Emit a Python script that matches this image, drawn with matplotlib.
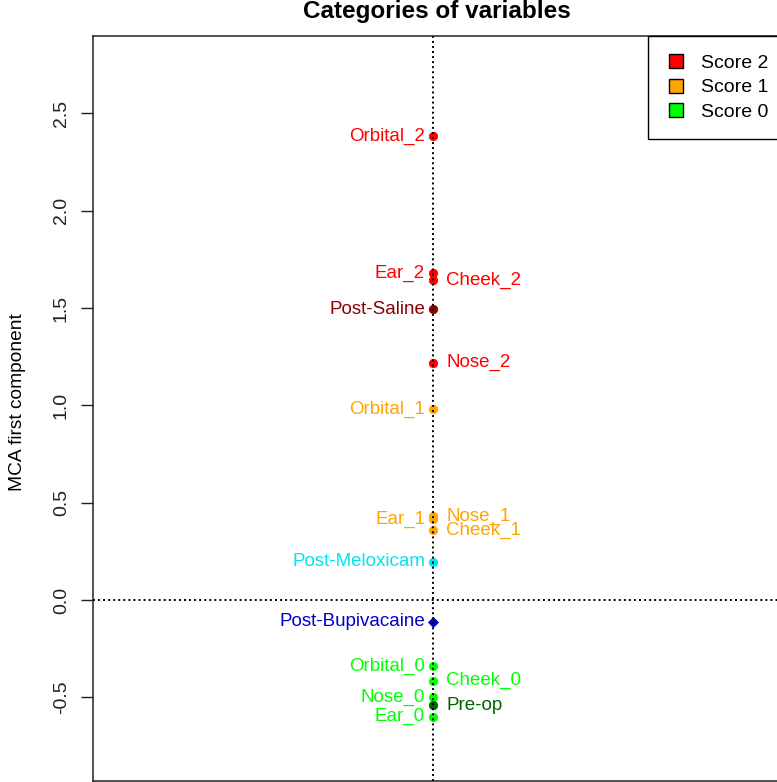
import matplotlib
matplotlib.use("Agg")
import matplotlib.pyplot as plt
from matplotlib.lines import Line2D

plt.rcParams['font.family'] = ['Liberation Sans', 'DejaVu Sans']

# ---- data ----
labels = ["Orbital_2", "Ear_2", "Cheek_2", "Post-Saline", "Nose_2",
          "Orbital_1", "Nose_1", "Ear_1", "Cheek_1", "Post-Meloxicam",
          "Post-Bupivacaine", "Orbital_0", "Cheek_0", "Nose_0", "Pre-op", "Ear_0"]
dim2 = [0.0] * 16
dim1 = [2.384, 1.679, 1.644, 1.494, 1.219,
        0.981, 0.430, 0.415, 0.360, 0.197,
        -0.111, -0.339, -0.415, -0.500, -0.540, -0.600]
colors = ["#FF0000", "#FF0000", "#FF0000", "#8B0000", "#FF0000",
          "#FFA500", "#FFA500", "#FFA500", "#FFA500", "#00E5EE",
          "#0000CD", "#00FF00", "#00FF00", "#00FF00", "#006400", "#00FF00"]
markers = ["o"] * 10 + ["D"] + ["o"] * 5
side = ["left", "left", "right", "left", "right",
        "left", "right", "left", "right", "left",
        "left", "left", "right", "left", "right", "left"]
legend_labels = ["Score 2", "Score 1", "Score 0"]
legend_colors = ["#FF0000", "#FFA500", "#00FF00"]
yticks = [-0.5, 0.0, 0.5, 1.0, 1.5, 2.0, 2.5]

fig = plt.figure(figsize=(7.77, 7.82), dpi=100)
ax = fig.add_axes([93 / 777, 1 / 782, (780 - 93) / 777, (781 - 36) / 782])

for x, y, c, m in zip(dim2, dim1, colors, markers):
    ax.plot([x], [y], marker=m, ls='none', color=c,
            markersize=6 if m == 'o' else 5.5, markeredgewidth=0.6,
            markeredgecolor=c, zorder=3)

for lab, x, y, c, s in zip(labels, dim2, dim1, colors, side):
    if s == "left":
        ax.annotate(lab, (x, y), xytext=(-5.8, 0), textcoords='offset points',
                    ha='right', va='center', color=c, fontsize=13.5)
    else:
        ax.annotate(lab, (x, y), xytext=(9.4, 0), textcoords='offset points',
                    ha='left', va='center', color=c, fontsize=13.5)

ax.axvline(0, color='black', lw=1.4, ls=(0, (1, 1.6)), zorder=4)
ax.axhline(0, color='black', lw=1.4, ls=(0, (1, 1.6)), zorder=4)

ax.set_xlim(-1.0, 1.02)
ax.set_ylim(-0.930, 2.898)
ax.set_xticks([])
ax.set_yticks(yticks)
ax.set_yticklabels([f"{v:.1f}" for v in yticks], rotation=90, va='center')
ax.tick_params(axis='y', direction='out', length=8.6, width=1.0,
               pad=8, labelsize=14, colors='#222222')
for sp in ax.spines.values():
    sp.set_linewidth(1.1)
    sp.set_color('#222222')

ax.set_ylabel("MCA first component", fontsize=13.8)
ax.yaxis.label.set_va('center')
ax.yaxis.set_label_coords(-0.11, 0.509)

ax.set_title("Categories of variables", fontweight='bold', fontsize=17.5, pad=13)

handles = [Line2D([], [], marker='s', ls='none', markersize=9.4,
                  markerfacecolor=c, markeredgecolor='black', markeredgewidth=1.0)
           for c in legend_colors]
leg = ax.legend(handles, legend_labels, loc='upper right',
                bbox_to_anchor=(1 + 7 / 687, 1.0), borderaxespad=0,
                fontsize=14, frameon=True, fancybox=False, framealpha=1,
                edgecolor='black', handlelength=1.0, handletextpad=0.8,
                borderpad=0.95, labelspacing=0.35)
leg.get_frame().set_linewidth(1.0)

fig.savefig("out.png", dpi=100)
